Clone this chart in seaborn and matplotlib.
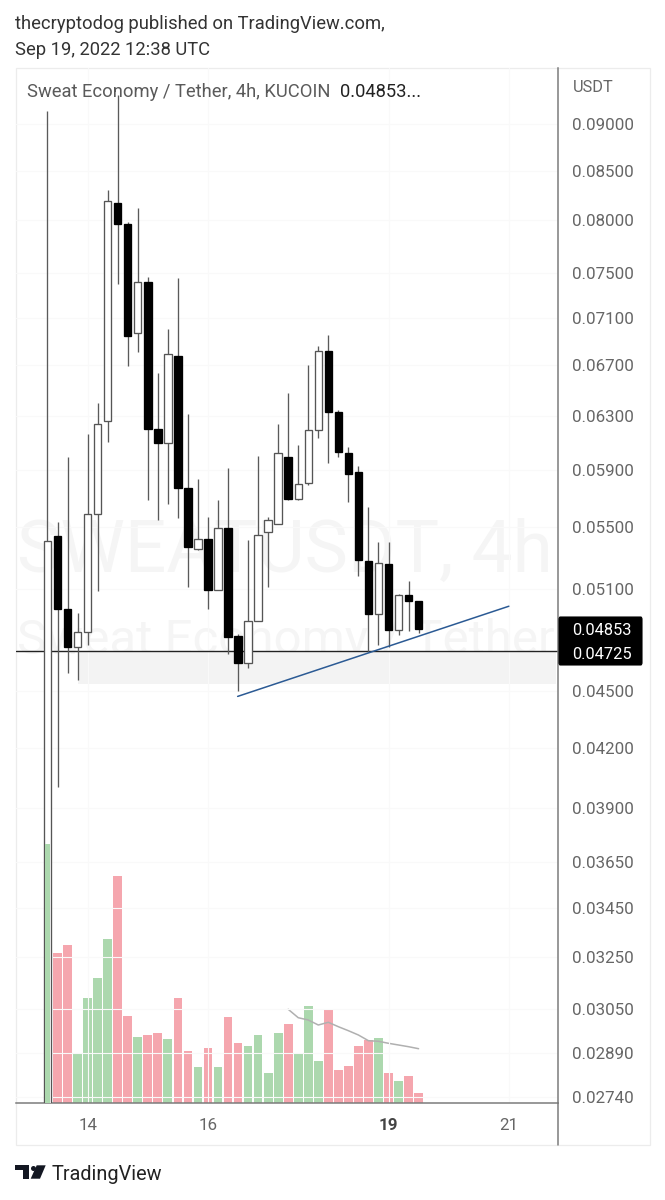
import numpy as np
import pandas as pd
import seaborn as sns
import matplotlib
matplotlib.use("Agg")
import matplotlib.pyplot as plt
from matplotlib.patches import Rectangle, FancyBboxPatch, Polygon
from matplotlib.lines import Line2D
from matplotlib.ticker import FixedLocator, FixedFormatter, NullLocator

opens = [.0262, .05438, .04976, .04750, .04838, .05591, .06261, .08175, .07967, .06968,
         .07422, .06199, .06092, .06780, .05765, .05353, .05418, .05095, .05490, .04815,
         .04658, .04903, .05463, .05523, .05993, .05688, .05807, .06191, .06819, .06326,
         .06018, .05883, .05276, .04944, .05257, .04852, .05060, .05023]
closes = [.05407, .04976, .04750, .04838, .05591, .06234, .08195, .07961, .06945, .07422,
          .06199, .06096, .06794, .05765, .05364, .05418, .05089, .05490, .04809, .04658,
          .04902, .05443, .05544, .06018, .05690, .05797, .06189, .06819, .06326, .06027,
          .05867, .05281, .04944, .05264, .04852, .05062, .05023, .04853]
highs = [.09148, .05530, .05993, .04952, .06161, .06396, .08303, .09325, .07981, .08119,
         .07462, .06635, .07002, .07458, .06318, .05829, .05564, .05683, .05913, .04825,
         .05414, .05998, .05564, .06234, .06475, .06079, .06703, .06860, .06951, .06342,
         .06062, .05925, .05637, .05401, .05401, .05070, .05147, .05023]
lows = [.0262, .04002, .04601, .04561, .04760, .05086, .06104, .07399, .06697, .06808,
        .05683, .05546, .05653, .05561, .05111, .05350, .04978, .05090, .04706, .04502,
        .04630, .04900, .05111, .05520, .05687, .05683, .05787, .06134, .05945, .05993,
        .05671, .05181, .04721, .04760, .04750, .04819, .04842, .04834]
volumes = [259, 149.7, 158, 49.3, 105, 125, 164.3, 227, 87, 66, 68, 69.7, 64.3, 105, 51.7, 36.3,
           55, 36.3, 85.7, 60.3, 57.3, 68, 30.3, 70.3, 78.7, 50.3, 97.3, 42.3, 94, 33, 37, 57,
           62.7, 65, 30, 22.3, 27, 10]
vol_up = [1, 0, 0, 1, 1, 1, 1, 0, 0, 1, 0, 0, 1, 0, 0, 1, 0, 1, 0, 0, 1, 1, 1, 1, 0, 1, 1, 1, 0,
          0, 0, 0, 0, 1, 0, 1, 0, 0]
vol_ma_start = 24
vol_ma = [93.7, 85.3, 83, 78, 80.7, 76.3, 72.3, 68, 62.3, 61.7, 59.7, 58, 56.3, 54.3]

price_ticks = [.09, .085, .08, .075, .071, .067, .063, .059, .055, .051, .045, .042, .039,
               .0365, .0345, .0325, .0305, .0289, .0274]
price_labels = ["0.09000", "0.08500", "0.08000", "0.07500", "0.07100", "0.06700", "0.06300",
                "0.05900", "0.05500", "0.05100", "0.04500", "0.04200", "0.03900", "0.03650",
                "0.03450", "0.03250", "0.03050", "0.02890", "0.02740"]
time_ticks = [4, 16, 34, 46]
time_labels = ["14", "16", "19", "21"]
hline_price = 0.04725
zone_bottom = 0.04539
zone_x = [3.07, 50.7]
trend_x = [18.96, 46]
trend_y = [.04471, .04992]

W, H = 665, 1200
sns.set_theme(style="white")
plt.rcParams["font.family"] = ["Roboto", "DejaVu Sans"]
fig = plt.figure(figsize=(W / 100, H / 100), dpi=100, facecolor="white")

def fx(x): return x / W
def fy(y): return 1 - y / H

L, R, T, B = 15.5, 557.5, 68, 1103
XL = (-3.19, 50.85)
rect = [fx(L), fy(B), fx(R) - fx(L), (B - T) / H]
axv = fig.add_axes(rect, zorder=1)
ax = fig.add_axes(rect, zorder=2, facecolor="none")
axv0 = fig.add_axes(rect, zorder=3, facecolor="none")

fig.add_artist(Rectangle((fx(15.5), fy(1145)), fx(650) - fx(15.5), (1145 - 68) / H, fill=False,
                         ec="#ececec", lw=0.9, transform=fig.transFigure, zorder=0))

fig.text(fx(17), fy(571.5), "SWEATUSDT, 4h", fontsize=52.5, color="#f5f5f5", va="baseline", ha="left", zorder=0.5)
fig.text(fx(17), fy(653), "Sweat Economy / Tether", fontsize=35.5, color="#f5f5f5", va="baseline", ha="left", zorder=0.5)

# volume pane
df = pd.DataFrame({"idx": np.arange(len(volumes)), "volume": volumes,
                   "dir": ["up" if u else "down" for u in vol_up]})
pal = {"up": "#acd8ae", "down": "#f5a6ae"}
sns.barplot(data=df.iloc[1:], x="idx", y="volume", hue="dir", native_scale=True, dodge=False, width=0.87,
            palette=pal, legend=False, ax=axv, saturation=1, linewidth=0)
ma_df = pd.DataFrame({"idx": np.arange(len(vol_ma)) + vol_ma_start, "ma": vol_ma})
sns.lineplot(data=ma_df, x="idx", y="ma", color="#b0b0b0", lw=1.1, ax=axv, errorbar=None)
axv.set_xlim(*XL)
axv.set_ylim(0, B - T)
axv.set_axis_off()

# the first, tallest volume bar shows over the long first candle, inside its outline
sns.barplot(data=df.iloc[:1], x="idx", y="volume", hue="dir", native_scale=True, dodge=False, width=0.55,
            palette=pal, legend=False, ax=axv0, saturation=1, linewidth=0)
axv0.set_xlim(*XL)
axv0.set_ylim(0, B - T)
axv0.set_axis_off()

# price pane
ax.set_yscale("log")
ax.set_ylim(0.0272, 0.09638)
ax.set_xlim(*XL)

x = np.arange(len(opens))
o, c, h, l = map(np.array, (opens, closes, highs, lows))
up = c >= o
span = XL[1] - XL[0]
ax.axhspan(zone_bottom, hline_price, xmin=(zone_x[0] - XL[0]) / span, xmax=(zone_x[1] - XL[0]) / span,
           color="#f3f3f3", lw=0, zorder=0.5)
ax.axhline(hline_price, color="#222222", lw=1.0, zorder=1)
ax.vlines(x, l, h, color="#5a5a5a", lw=0.95, zorder=2)
bot = np.minimum(o, c)
top = np.maximum(o, c)
ax.bar(x, top - bot, bottom=bot, width=0.74, color=["white" if u else "black" for u in up],
       edgecolor=["#555555" if u else "black" for u in up], linewidth=0.95, zorder=3)
ax.plot(trend_x, trend_y, color="#2b5a94", lw=1.1, zorder=4)

ax.yaxis.tick_right()
ax.yaxis.set_major_locator(FixedLocator(price_ticks))
ax.yaxis.set_major_formatter(FixedFormatter(price_labels))
ax.yaxis.set_minor_locator(NullLocator())
ax.set_xticks(time_ticks)
ax.set_xticklabels(time_labels)
ax.tick_params(axis="y", length=0, pad=10.5, labelsize=12.2, labelcolor="#666666", which="both")
ax.tick_params(axis="x", length=0, pad=10.5, labelsize=12.2, labelcolor="#666666")
ax.get_xticklabels()[2].set_fontweight("bold")
ax.get_xticklabels()[2].set_color("#444444")
ax.grid(True, color="#f9f9f9", lw=0.8, zorder=0)
ax.set_axisbelow(True)
for s in ("top", "left"):
    ax.spines[s].set_visible(False)
for s in ("bottom", "right"):
    ax.spines[s].set_color("#7c7c7c")
    ax.spines[s].set_linewidth(1.1)

fig.add_artist(Line2D([fx(R), fx(R)], [fy(1145), fy(1103)], color="#7c7c7c", lw=1.1, transform=fig.transFigure))

# last price tags (one black block, two values)
fig.add_artist(FancyBboxPatch((fx(559), fy(665)), fx(642) - fx(559), (665 - 617) / H,
                              boxstyle="round,pad=0,rounding_size=0.002", fc="black", ec="black",
                              lw=0.8, transform=fig.transFigure, zorder=5))
fig.text(fx(572), fy(630.5), "0.04853", color="white", fontsize=11.8, va="center", ha="left", zorder=6)
fig.text(fx(572), fy(654.5), "0.04725", color="white", fontsize=11.8, va="center", ha="left", zorder=6)

# text
fig.text(fx(15), fy(24), "thecryptodog published on TradingView.com,", fontsize=13.2, color="#333333", va="center")
fig.text(fx(15), fy(50), "Sep 19, 2022 12:38 UTC", fontsize=13.2, color="#333333", va="center")
fig.text(fx(27), fy(92), "Sweat Economy / Tether, 4h, KUCOIN", fontsize=13.2, color="#5a5a5a", va="center", zorder=6)
fig.text(fx(340), fy(92), "0.04853...", fontsize=13.2, color="#222222", va="center", zorder=6)
fig.text(fx(573), fy(88), "USDT", fontsize=11.8, color="#666666", va="center")
fig.text(fx(52), fy(1174), "TradingView", fontsize=14.3, color="#222222", va="center")

# logo
logo = [[(15.3, 1165.3), (29.3, 1165.3), (29.3, 1178.7), (22.7, 1178.7), (22.7, 1170), (15.3, 1170)],
        [(36.7, 1165.3), (45.7, 1165.3), (40, 1178.7), (30.7, 1178.7)]]
for pts in logo:
    fig.add_artist(Polygon([(fx(a), fy(b)) for a, b in pts], closed=True, fc="#131722", ec="none",
                           transform=fig.transFigure))
fig.add_artist(Line2D([fx(32.7)], [fy(1167.8)], marker="o", ms=3.6, mew=0, color="#131722", transform=fig.transFigure))

fig.savefig("out.png", dpi=100)
